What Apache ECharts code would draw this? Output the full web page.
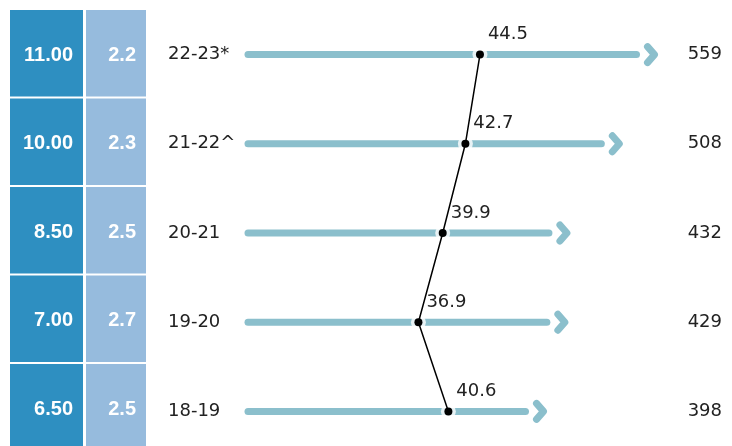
<!DOCTYPE html>
<html>
<head>
<meta charset="utf-8">
<script src="https://cdn.jsdelivr.net/npm/echarts@6/dist/echarts.min.js"></script>
<style>
html,body{margin:0;padding:0;background:#fff;}
#chart{width:732px;height:446px;}
</style>
</head>
<body>
<div id="chart"></div>
<script>
const categories = ['22-23*', '21-22^', '20-21', '19-20', '18-19'];
const rateA = [11.00, 10.00, 8.50, 7.00, 6.50];
const rateB = [2.2, 2.3, 2.5, 2.7, 2.5];
const lineValues = [44.5, 42.7, 39.9, 36.9, 40.6];
const arrowValues = [559, 508, 432, 429, 398];

const TEXT_FONT = '"DejaVu Sans", sans-serif';
const ARROW_COLOR = '#8BBFCC';

function boxSeries(values, x0, w, color, digits) {
  return {
    type: 'custom',
    xAxisIndex: 2,
    yAxisIndex: 2,
    data: values.map((v, i) => [i, v]),
    encode: { y: 0 },
    silent: true,
    renderItem: function (params, api) {
      const i = api.value(0);
      const cs = params.coordSys;
      const yc = api.coord([0, i])[1];
      const band = api.size([0, 1])[1];
      return {
        type: 'rect',
        shape: { x: cs.x + x0, y: yc - band / 2, width: w, height: band - 2 },
        style: { fill: color },
        textContent: {
          style: {
            text: api.value(1).toFixed(digits),
            fill: '#fff',
            fontFamily: '"Liberation Sans", Arial, sans-serif',
            fontWeight: 'bold',
            fontSize: 20
          }
        },
        textConfig: { position: 'insideRight', distance: 10, offset: [0, 2] }
      };
    }
  };
}

const chart = echarts.init(document.getElementById('chart'));
const ARROW_MIN = -30.6;

const option = {
  animation: false,
  backgroundColor: '#fff',
  grid: [
    { left: 248, right: 20, top: 10, height: 446, outerBoundsMode: 'none', containLabel: false },
    { left: 10, width: 136, top: 10, height: 442.5, outerBoundsMode: 'none', containLabel: false }
  ],
  xAxis: [
    { gridIndex: 0, type: 'value', min: ARROW_MIN, max: 642.4, show: false },
    { gridIndex: 0, type: 'value', min: 15.85, max: 73.16, show: false },
    { gridIndex: 1, type: 'value', min: 0, max: 1, show: false }
  ],
  yAxis: [
    {
      gridIndex: 0, type: 'category', data: categories, inverse: true,
      axisLine: { show: false }, axisTick: { show: false }, splitLine: { show: false },
      axisLabel: { align: 'left', margin: 80, fontFamily: TEXT_FONT, fontSize: 18, color: '#222' }
    },
    {
      gridIndex: 0, type: 'category', position: 'right', data: arrowValues.map(String), inverse: true,
      axisLine: { show: false }, axisTick: { show: false }, splitLine: { show: false },
      axisLabel: { align: 'right', margin: 10, fontFamily: TEXT_FONT, fontSize: 18, color: '#222' }
    },
    { gridIndex: 1, type: 'category', data: categories, inverse: true, show: false }
  ],
  series: [
    boxSeries(rateA, 0, 73, '#2E8FC1', 2),
    boxSeries(rateB, 76, 60, '#96BBDD', 1),
    {
      type: 'custom',
      xAxisIndex: 0,
      yAxisIndex: 0,
      z: 1,
      silent: true,
      data: arrowValues.map((v, i) => [v, i]),
      encode: { x: 0, y: 1 },
      renderItem: function (params, api) {
        const i = api.value(1);
        const start = api.coord([ARROW_MIN, i]);
        const end = api.coord([api.value(0), i]);
        const y = start[1];
        const tip = end[0];
        const st = { stroke: ARROW_COLOR, lineWidth: 7, lineCap: 'round', lineJoin: 'round', fill: null };
        return {
          type: 'group',
          children: [
            { type: 'line', shape: { x1: start[0], y1: y, x2: tip - 18, y2: y }, style: st },
            { type: 'polyline', shape: { points: [[tip - 7, y - 8], [tip, y], [tip - 7, y + 8]] }, style: st }
          ]
        };
      }
    },
    {
      type: 'scatter',
      xAxisIndex: 1,
      yAxisIndex: 0,
      z: 2,
      silent: true,
      symbol: 'circle',
      symbolSize: 15,
      itemStyle: { color: '#fff' },
      data: lineValues.map((v, i) => [v, i])
    },
    {
      type: 'line',
      xAxisIndex: 1,
      yAxisIndex: 0,
      z: 3,
      silent: true,
      symbol: 'circle',
      symbolSize: 8,
      showAllSymbol: true,
      lineStyle: { color: '#000', width: 1.5 },
      itemStyle: { color: '#000' },
      label: {
        show: true,
        position: 'top',
        distance: 7,
        offset: [28, 0],
        fontFamily: TEXT_FONT,
        fontSize: 18,
        color: '#222',
        formatter: p => lineValues[p.dataIndex].toFixed(1)
      },
      data: lineValues.map((v, i) => [v, i])
    }
  ]
};
chart.setOption(option);
</script>
</body>
</html>
